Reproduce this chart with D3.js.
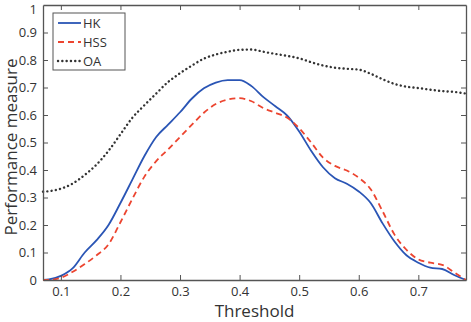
<!DOCTYPE html>
<html>
<head>
<meta charset="utf-8">
<script src="https://cdn.jsdelivr.net/npm/d3@7"></script>
<style>
  body { margin: 0; background: #fff; }
  svg text { font-family: "Open Sans", "DejaVu Sans", sans-serif; fill: #333; }
</style>
</head>
<body>
<svg id="chart" width="471" height="322" viewBox="0 0 471 322"></svg>
<script>
// threshold values along x
const thresholds = [0.07,0.08,0.10,0.12,0.14,0.16,0.18,0.20,0.22,0.24,0.26,0.28,0.30,0.32,0.34,0.36,0.38,0.40,
  0.42,0.44,0.46,0.48,0.50,0.52,0.54,0.56,0.58,0.60,0.62,0.64,0.66,0.68,0.70,0.72,0.74,0.76,0.78]
const hk = [0,0.002,0.015,0.043,0.10,0.145,0.20,0.28,0.365,0.45,0.52,0.565,0.61,0.66,0.697,0.718,0.727,0.727,
  0.705,0.665,0.632,0.598,0.54,0.47,0.41,0.37,0.35,0.322,0.28,0.206,0.14,0.09,0.063,0.045,0.04,0.018,0]
const hss = [0,0,0.008,0.03,0.058,0.09,0.13,0.21,0.295,0.375,0.432,0.475,0.52,0.565,0.608,0.64,0.656,0.661,
  0.65,0.625,0.608,0.59,0.552,0.50,0.445,0.415,0.398,0.372,0.33,0.25,0.165,0.11,0.075,0.063,0.055,0.028,0]
const oa = [0.321,0.323,0.332,0.351,0.382,0.42,0.47,0.53,0.59,0.635,0.678,0.72,0.752,0.78,0.805,0.82,0.83,0.837,
  0.838,0.83,0.822,0.815,0.806,0.792,0.78,0.772,0.768,0.765,0.75,0.73,0.713,0.703,0.698,0.692,0.687,0.684,0.678]
const xTicks = [0.1,0.2,0.3,0.4,0.5,0.6,0.7]
const yTicks = [0,0.1,0.2,0.3,0.4,0.5,0.6,0.7,0.8,0.9,1]
const seriesNames = ["HK","HSS","OA"]

let svg = d3.select("#chart")
let margin = {left: 43, top: 5, right: 5, bottom: 42}
let width = 471 - margin.left - margin.right
let height = 322 - margin.top - margin.bottom

let x = d3.scaleLinear().domain([0.07, 0.78]).range([0, width])
let y = d3.scaleLinear().domain([0, 1]).range([height, 0])

let g = svg.append("g").attr("transform", `translate(${margin.left},${margin.top})`)

// lines
let series = [
  {name: seriesNames[0], values: hk, color: "#2a55b5", dash: null, cap: "butt"},
  {name: seriesNames[1], values: hss, color: "#ec4530", dash: "6,4", cap: "butt"},
  {name: seriesNames[2], values: oa, color: "#333", dash: "0.1,4.2", cap: "round"}
]
let line = d3.line()
  .x(function (d) { return x(d[0]) })
  .y(function (d) { return y(d[1]) })
  .curve(d3.curveMonotoneX)

series.forEach(function (s) {
  g.append("path")
    .datum(thresholds.map(function (t, i) { return [t, s.values[i]] }))
    .attr("fill", "none")
    .attr("stroke", s.color)
    .attr("stroke-width", s.name === "OA" ? 2.4 : 1.8)
    .attr("stroke-dasharray", s.dash)
    .attr("stroke-linecap", s.cap)
    .attr("d", line)
})

// axes (box with inward ticks, matlab style)
const axisColor = "#555"
let xb = g.append("g").attr("transform", `translate(0,${height})`)
  .call(d3.axisBottom(x).tickValues(xTicks).tickSizeInner(-5).tickSizeOuter(0).tickPadding(7).tickFormat(d3.format("")))
let xt = g.append("g")
  .call(d3.axisTop(x).tickValues(xTicks).tickSizeInner(-5).tickSizeOuter(0).tickFormat(""))
let yl = g.append("g")
  .call(d3.axisLeft(y).tickValues(yTicks).tickSizeInner(-5).tickSizeOuter(0).tickPadding(6).tickFormat(d3.format("")))
let yr = g.append("g").attr("transform", `translate(${width},0)`)
  .call(d3.axisRight(y).tickValues(yTicks).tickSizeInner(-5).tickSizeOuter(0).tickFormat(""))
;[xb, xt, yl, yr].forEach(function (a) {
  a.selectAll("path").attr("stroke", axisColor).attr("stroke-width", 1.3)
  a.selectAll("line").attr("stroke", axisColor).attr("stroke-width", 1)
  a.selectAll("text").attr("font-size", 13).style("fill", "#333")
})
// drop the ticks sitting on the corners
yl.selectAll(".tick line").filter(function (d) { return d === 0 || d === 1 }).remove()
yr.selectAll(".tick line").filter(function (d) { return d === 0 || d === 1 }).remove()
// keep the top label inside the picture
yl.selectAll(".tick text").filter(function (d) { return d === 1 }).attr("dy", "0.65em")

// axis titles
svg.append("text")
  .attr("x", margin.left + width / 2).attr("y", 317)
  .attr("text-anchor", "middle").attr("font-size", 17)
  .text("Threshold")
svg.append("text")
  .attr("transform", "translate(17,147) rotate(-90)")
  .attr("text-anchor", "middle").attr("font-size", 17)
  .text("Performance measure")

// legend
let legend = g.append("g").attr("transform", "translate(10,8)")
legend.append("rect")
  .attr("width", 72).attr("height", 57)
  .attr("fill", "#fff").attr("stroke", axisColor).attr("stroke-width", 1)
series.forEach(function (s, i) {
  let ly = 10 + i * 19
  legend.append("line")
    .attr("x1", 5).attr("x2", 28).attr("y1", ly).attr("y2", ly)
    .attr("stroke", s.color)
    .attr("stroke-width", s.name === "OA" ? 2.4 : 1.8)
    .attr("stroke-dasharray", s.dash)
    .attr("stroke-linecap", s.cap)
  legend.append("text")
    .attr("x", 30).attr("y", ly).attr("dy", "0.35em")
    .attr("font-size", 13)
    .text(s.name)
})
</script>
</body>
</html>
